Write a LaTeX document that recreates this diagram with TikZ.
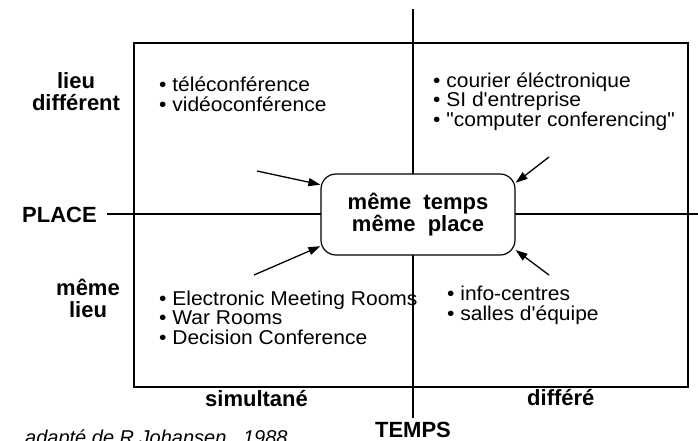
\documentclass[tikz,border=0pt]{standalone}
\usepackage{fontspec}
\setmainfont{Liberation Sans}
\newfontfamily\listfont{Liberation Sans}[FakeStretch=1.05]
\usetikzlibrary{arrows.meta}

\tikzset{
  axis/.style={line width=1.2pt, black},
  frame/.style={line width=1.2pt, black},
  corebox/.style={draw, line width=1.2pt, fill=white, rounded corners=15pt,
    minimum width=194pt, minimum height=81pt, align=center, inner sep=0pt,
    font=\fontsize{22pt}{21.5pt}\selectfont\bfseries},
  label/.style={inner sep=0pt, align=center,
    font=\fontsize{22pt}{22pt}\selectfont\bfseries},
  items/.style={inner sep=0pt, align=left, anchor=base west,
    font=\fontsize{20pt}{19.5pt}\selectfont\listfont},
  source/.style={inner sep=0pt, anchor=base west,
    font=\fontsize{20pt}{20pt}\selectfont\itshape},
  push/.style={line width=1.3pt, -{Triangle[length=12pt,width=8pt]}},
}

\begin{document}
\begin{tikzpicture}[x=1pt, y=-1pt]
\useasboundingbox (0,0) rectangle (698,440);
\clip (0,0) rectangle (698,440);

% outer frame of the matrix
\draw[frame] (134,43) rectangle (688,387);

% axis ends
\coordinate (ttop) at (413,9);
\coordinate (tbot) at (413,418);
\coordinate (pleft) at (107,214);
\coordinate (pright) at (698,214);

% the two axes
\draw[axis] (ttop) -- (tbot);
\draw[axis] (pleft) -- (pright);

% central box
\node[corebox] (core) at (418,214.5) {même\ \ temps\\même\ \ place};

% arrows pointing at the centre
\coordinate (tl) at (257,171);
\coordinate (bl) at (254,275);
\coordinate (tr) at (549,157);
\coordinate (br) at (549,275);
\draw[push] (tl) -- (core.163);
\draw[push] (bl) -- (core.198.5);
\draw[push] (tr) -- (core.18.5);
\draw[push] (br) -- (core.-20);

% axis labels (multi-line nodes are placed by their last baseline)
\node[label, anchor=base east] (place) at (97,222) {PLACE};
\node[label, anchor=base] (temps) at (413,437) {TEMPS};
\node[label, anchor=base] (ldiff) at (76,110) {lieu\\différent};
\node[label, anchor=base] (lsame) at (88,317) {même\\lieu};
\node[label, anchor=base west] (simul) at (205,406) {simultané};
\node[label, anchor=base west] (differe) at (527,405) {différé};

% quadrant contents
\node[items] (qtl) at (159,111) {• téléconférence\\• vidéoconférence};
\node[items] (qtr) at (433,126) {• courier éléctronique\\• SI d'entreprise\\• "computer conferencing"};
\node[items] (qbl) at (159,344) {• Electronic Meeting Rooms\\• War Rooms\\• Decision Conference};
\node[items] (qbr) at (447,320) {• info-centres\\• salles d'équipe};

% source line
\node[source] (src) at (25,444) {adapté de R.Johansen , 1988};
\end{tikzpicture}
\end{document}
